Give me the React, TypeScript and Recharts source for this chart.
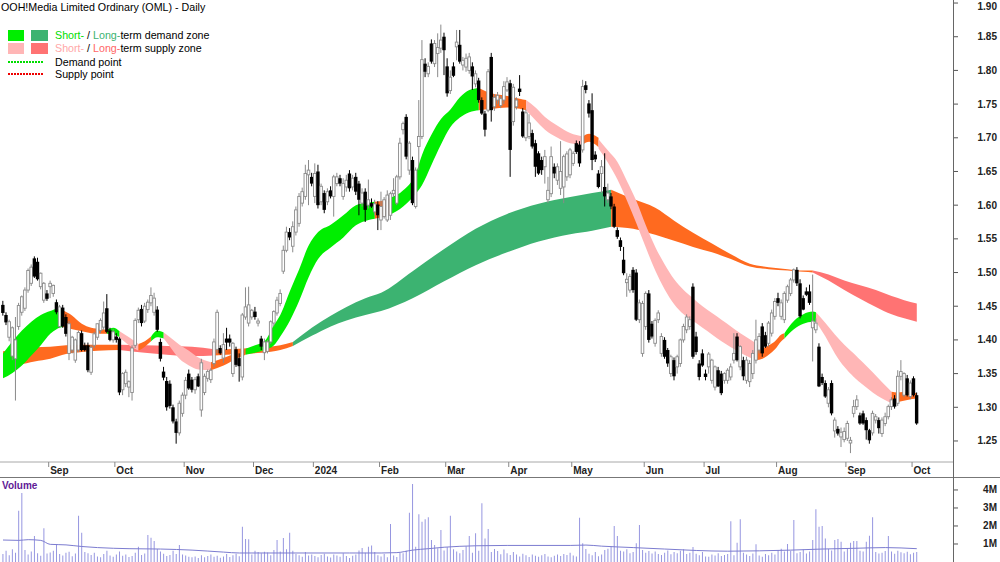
import React from 'react';
import { ComposedChart, Bar, Area, Line, XAxis, YAxis } from 'recharts';

// daily candles [open, high, low, close], 11 Aug 2023 .. 2 Oct 2024
const ohlc: number[][] = [
  [1.452, 1.458, 1.436, 1.440], [1.437, 1.441, 1.422, 1.426], [1.404, 1.430, 1.398, 1.427], [1.376, 1.420, 1.370, 1.418], [1.372, 1.434, 1.310, 1.400],
  [1.420, 1.455, 1.415, 1.451], [1.441, 1.466, 1.436, 1.464], [1.447, 1.478, 1.443, 1.474], [1.474, 1.506, 1.470, 1.503], [1.484, 1.512, 1.480, 1.508],
  [1.521, 1.524, 1.492, 1.494], [1.516, 1.522, 1.488, 1.490], [1.479, 1.500, 1.475, 1.499], [1.459, 1.486, 1.455, 1.484], [1.469, 1.474, 1.458, 1.461],
  [1.479, 1.488, 1.462, 1.484], [1.469, 1.482, 1.464, 1.481], [1.456, 1.460, 1.438, 1.441], [1.420, 1.452, 1.418, 1.449], [1.448, 1.452, 1.418, 1.420],
  [1.434, 1.438, 1.405, 1.409], [1.380, 1.428, 1.370, 1.424], [1.385, 1.406, 1.380, 1.404], [1.370, 1.402, 1.366, 1.400], [1.385, 1.414, 1.382, 1.411],
  [1.410, 1.414, 1.383, 1.385], [1.392, 1.396, 1.383, 1.385], [1.392, 1.396, 1.352, 1.355], [1.352, 1.392, 1.348, 1.389], [1.392, 1.412, 1.388, 1.409],
  [1.404, 1.424, 1.400, 1.424], [1.414, 1.432, 1.410, 1.429], [1.419, 1.457, 1.415, 1.440], [1.447, 1.468, 1.410, 1.412], [1.414, 1.418, 1.398, 1.400],
  [1.400, 1.416, 1.396, 1.412], [1.405, 1.410, 1.396, 1.400], [1.402, 1.404, 1.318, 1.322], [1.326, 1.352, 1.318, 1.350], [1.335, 1.356, 1.330, 1.352],
  [1.330, 1.340, 1.315, 1.338], [1.322, 1.392, 1.310, 1.388], [1.392, 1.432, 1.388, 1.429], [1.430, 1.448, 1.425, 1.444], [1.446, 1.452, 1.420, 1.425],
  [1.428, 1.455, 1.425, 1.450], [1.445, 1.460, 1.440, 1.456], [1.455, 1.478, 1.450, 1.466], [1.441, 1.470, 1.436, 1.462], [1.445, 1.450, 1.412, 1.415],
  [1.397, 1.402, 1.368, 1.372], [1.353, 1.360, 1.340, 1.344], [1.339, 1.345, 1.295, 1.300], [1.335, 1.340, 1.298, 1.302], [1.300, 1.304, 1.276, 1.279],
  [1.279, 1.283, 1.246, 1.262], [1.262, 1.310, 1.258, 1.306], [1.291, 1.322, 1.286, 1.318], [1.318, 1.345, 1.312, 1.340], [1.350, 1.356, 1.326, 1.328],
  [1.341, 1.345, 1.322, 1.326], [1.326, 1.345, 1.320, 1.341], [1.346, 1.350, 1.330, 1.331], [1.296, 1.372, 1.286, 1.366], [1.322, 1.350, 1.318, 1.346],
  [1.343, 1.356, 1.338, 1.353], [1.341, 1.358, 1.336, 1.355], [1.365, 1.402, 1.360, 1.397], [1.386, 1.445, 1.380, 1.441], [1.388, 1.392, 1.378, 1.380],
  [1.373, 1.410, 1.366, 1.393], [1.402, 1.418, 1.385, 1.396], [1.402, 1.408, 1.390, 1.396], [1.350, 1.397, 1.345, 1.395], [1.386, 1.390, 1.360, 1.363],
  [1.373, 1.380, 1.338, 1.361], [1.345, 1.440, 1.340, 1.437], [1.434, 1.478, 1.430, 1.449], [1.425, 1.479, 1.420, 1.452], [1.434, 1.446, 1.430, 1.444],
  [1.442, 1.449, 1.430, 1.434], [1.425, 1.432, 1.420, 1.428], [1.402, 1.406, 1.385, 1.390], [1.381, 1.402, 1.370, 1.397], [1.383, 1.400, 1.380, 1.397],
  [1.397, 1.429, 1.394, 1.427], [1.425, 1.444, 1.420, 1.442], [1.440, 1.464, 1.436, 1.459], [1.454, 1.475, 1.450, 1.469], [1.502, 1.540, 1.498, 1.533],
  [1.533, 1.568, 1.530, 1.560], [1.560, 1.566, 1.548, 1.552], [1.539, 1.576, 1.530, 1.568], [1.560, 1.598, 1.555, 1.593], [1.573, 1.618, 1.568, 1.613],
  [1.603, 1.626, 1.598, 1.620], [1.613, 1.660, 1.608, 1.647], [1.645, 1.667, 1.600, 1.652], [1.642, 1.648, 1.628, 1.632], [1.613, 1.662, 1.603, 1.647],
  [1.650, 1.660, 1.595, 1.600], [1.605, 1.632, 1.600, 1.628], [1.618, 1.622, 1.588, 1.593], [1.605, 1.625, 1.600, 1.620], [1.622, 1.628, 1.610, 1.613],
  [1.613, 1.645, 1.583, 1.642], [1.632, 1.648, 1.628, 1.642], [1.640, 1.645, 1.628, 1.632], [1.613, 1.640, 1.608, 1.632], [1.627, 1.645, 1.620, 1.637],
  [1.647, 1.652, 1.620, 1.625], [1.627, 1.645, 1.622, 1.640], [1.642, 1.648, 1.615, 1.620], [1.632, 1.636, 1.585, 1.608], [1.603, 1.625, 1.598, 1.618],
  [1.620, 1.625, 1.575, 1.593], [1.600, 1.638, 1.595, 1.608], [1.603, 1.610, 1.596, 1.598], [1.590, 1.608, 1.585, 1.602], [1.601, 1.606, 1.563, 1.585],
  [1.578, 1.620, 1.563, 1.598], [1.583, 1.612, 1.580, 1.608], [1.578, 1.622, 1.575, 1.615], [1.585, 1.620, 1.578, 1.617], [1.617, 1.640, 1.612, 1.622],
  [1.603, 1.645, 1.600, 1.642], [1.642, 1.700, 1.638, 1.692], [1.712, 1.724, 1.705, 1.721], [1.731, 1.735, 1.668, 1.672], [1.652, 1.695, 1.645, 1.692],
  [1.667, 1.672, 1.600, 1.603], [1.598, 1.656, 1.595, 1.652], [1.687, 1.756, 1.652, 1.702], [1.702, 1.845, 1.698, 1.816], [1.810, 1.818, 1.790, 1.798],
  [1.795, 1.812, 1.790, 1.806], [1.840, 1.846, 1.810, 1.813], [1.810, 1.845, 1.805, 1.840], [1.825, 1.855, 1.790, 1.834], [1.833, 1.868, 1.826, 1.845],
  [1.850, 1.856, 1.793, 1.830], [1.806, 1.818, 1.761, 1.766], [1.770, 1.800, 1.765, 1.790], [1.806, 1.812, 1.790, 1.792], [1.835, 1.860, 1.815, 1.842],
  [1.838, 1.860, 1.810, 1.813], [1.808, 1.820, 1.800, 1.815], [1.805, 1.825, 1.798, 1.818], [1.800, 1.826, 1.795, 1.820], [1.806, 1.812, 1.771, 1.791],
  [1.780, 1.800, 1.775, 1.795], [1.785, 1.789, 1.752, 1.756], [1.756, 1.760, 1.734, 1.736], [1.736, 1.740, 1.702, 1.712], [1.741, 1.802, 1.738, 1.798],
  [1.820, 1.826, 1.724, 1.741], [1.746, 1.765, 1.740, 1.760], [1.756, 1.768, 1.750, 1.763], [1.748, 1.762, 1.744, 1.758], [1.756, 1.784, 1.750, 1.776],
  [1.771, 1.790, 1.768, 1.783], [1.781, 1.786, 1.642, 1.682], [1.724, 1.780, 1.718, 1.775], [1.746, 1.760, 1.742, 1.756], [1.773, 1.793, 1.762, 1.768],
  [1.739, 1.744, 1.700, 1.702], [1.700, 1.742, 1.695, 1.737], [1.702, 1.735, 1.698, 1.722], [1.707, 1.712, 1.684, 1.687], [1.692, 1.697, 1.642, 1.657],
  [1.677, 1.680, 1.645, 1.647], [1.667, 1.672, 1.645, 1.652], [1.657, 1.682, 1.632, 1.672], [1.608, 1.642, 1.603, 1.622], [1.617, 1.687, 1.612, 1.672],
  [1.657, 1.662, 1.640, 1.647], [1.637, 1.662, 1.630, 1.657], [1.625, 1.695, 1.615, 1.650], [1.627, 1.675, 1.603, 1.672], [1.642, 1.680, 1.636, 1.676],
  [1.645, 1.685, 1.640, 1.682], [1.662, 1.680, 1.658, 1.677], [1.692, 1.696, 1.676, 1.679], [1.690, 1.695, 1.657, 1.662], [1.682, 1.786, 1.678, 1.776],
  [1.778, 1.784, 1.766, 1.771], [1.751, 1.756, 1.730, 1.736], [1.741, 1.766, 1.652, 1.667], [1.675, 1.680, 1.664, 1.668], [1.647, 1.652, 1.625, 1.627],
  [1.647, 1.667, 1.618, 1.657], [1.627, 1.677, 1.598, 1.613], [1.608, 1.632, 1.603, 1.618], [1.613, 1.618, 1.594, 1.598], [1.598, 1.602, 1.566, 1.568],
  [1.563, 1.567, 1.550, 1.553], [1.548, 1.552, 1.532, 1.538], [1.519, 1.538, 1.496, 1.499], [1.485, 1.499, 1.464, 1.490], [1.474, 1.498, 1.470, 1.494],
  [1.504, 1.508, 1.470, 1.474], [1.500, 1.505, 1.428, 1.430], [1.430, 1.460, 1.425, 1.455], [1.380, 1.458, 1.375, 1.454], [1.420, 1.472, 1.415, 1.469],
  [1.469, 1.474, 1.396, 1.400], [1.424, 1.428, 1.402, 1.405], [1.395, 1.432, 1.390, 1.429], [1.430, 1.444, 1.425, 1.440], [1.380, 1.410, 1.375, 1.405],
  [1.400, 1.404, 1.372, 1.375], [1.385, 1.388, 1.360, 1.365], [1.350, 1.378, 1.345, 1.375], [1.370, 1.374, 1.340, 1.346], [1.360, 1.378, 1.350, 1.375],
  [1.365, 1.402, 1.360, 1.400], [1.400, 1.424, 1.396, 1.420], [1.415, 1.438, 1.410, 1.434], [1.420, 1.435, 1.415, 1.430], [1.479, 1.484, 1.372, 1.375],
  [1.405, 1.412, 1.378, 1.382], [1.365, 1.370, 1.340, 1.345], [1.380, 1.386, 1.360, 1.362], [1.350, 1.356, 1.340, 1.345], [1.360, 1.382, 1.350, 1.379],
  [1.340, 1.372, 1.335, 1.370], [1.330, 1.362, 1.325, 1.360], [1.355, 1.360, 1.330, 1.331], [1.350, 1.354, 1.318, 1.321], [1.340, 1.352, 1.335, 1.350],
  [1.340, 1.358, 1.335, 1.355], [1.345, 1.365, 1.340, 1.360], [1.370, 1.410, 1.365, 1.380], [1.405, 1.410, 1.368, 1.370], [1.360, 1.392, 1.355, 1.390],
  [1.370, 1.375, 1.340, 1.346], [1.340, 1.375, 1.335, 1.370], [1.338, 1.370, 1.330, 1.365], [1.350, 1.385, 1.342, 1.380], [1.370, 1.430, 1.365, 1.400],
  [1.385, 1.410, 1.380, 1.405], [1.420, 1.425, 1.375, 1.380], [1.407, 1.412, 1.388, 1.390], [1.395, 1.428, 1.390, 1.425], [1.410, 1.445, 1.405, 1.440],
  [1.435, 1.462, 1.430, 1.457], [1.462, 1.470, 1.450, 1.455], [1.435, 1.460, 1.430, 1.455], [1.430, 1.472, 1.425, 1.469], [1.459, 1.482, 1.455, 1.479],
  [1.469, 1.492, 1.465, 1.489], [1.489, 1.506, 1.485, 1.504], [1.504, 1.508, 1.480, 1.484], [1.484, 1.490, 1.432, 1.435], [1.462, 1.466, 1.444, 1.445],
  [1.472, 1.478, 1.465, 1.467], [1.472, 1.482, 1.452, 1.455], [1.418, 1.497, 1.368, 1.428], [1.415, 1.432, 1.410, 1.425], [1.390, 1.395, 1.330, 1.331],
  [1.345, 1.350, 1.333, 1.336], [1.336, 1.340, 1.314, 1.316], [1.306, 1.330, 1.300, 1.326], [1.336, 1.340, 1.288, 1.291], [1.265, 1.285, 1.255, 1.281],
  [1.268, 1.272, 1.258, 1.261], [1.256, 1.270, 1.241, 1.263], [1.252, 1.270, 1.248, 1.264], [1.254, 1.280, 1.250, 1.276], [1.247, 1.256, 1.232, 1.251],
  [1.291, 1.311, 1.285, 1.301], [1.301, 1.318, 1.296, 1.311], [1.288, 1.292, 1.274, 1.276], [1.291, 1.295, 1.274, 1.276], [1.281, 1.285, 1.252, 1.266],
  [1.266, 1.268, 1.246, 1.251], [1.262, 1.295, 1.258, 1.291], [1.281, 1.290, 1.276, 1.286], [1.281, 1.285, 1.261, 1.269], [1.261, 1.285, 1.256, 1.281],
  [1.276, 1.292, 1.272, 1.286], [1.286, 1.304, 1.282, 1.301], [1.301, 1.315, 1.296, 1.311], [1.313, 1.318, 1.298, 1.301], [1.306, 1.355, 1.302, 1.346],
  [1.346, 1.370, 1.340, 1.353], [1.318, 1.352, 1.315, 1.350], [1.343, 1.348, 1.316, 1.318], [1.316, 1.340, 1.312, 1.336], [1.343, 1.346, 1.316, 1.318],
  [1.318, 1.322, 1.274, 1.276],
];

// daily volume, millions of shares
const volume: number[] = [
  0.45, 0.62, 0.38, 0.71, 0.52, 2.85, 3.83, 0.66, 0.41, 0.58,
  1.44, 0.49, 0.35, 1.87, 0.47, 0.53, 0.62, 0.98, 0.44, 0.36,
  0.51, 0.57, 0.32, 0.47, 2.57, 1.63, 0.55, 0.48, 0.39, 0.52,
  0.31, 0.27, 0.44, 0.62, 0.36, 0.29, 0.41, 0.58, 0.35, 0.42,
  0.28, 0.33, 0.52, 0.85, 0.39, 0.47, 1.50, 1.35, 1.17, 0.72,
  0.58, 0.46, 0.33, 0.39, 0.62, 0.45, 0.94, 0.41, 0.36, 0.29,
  0.27, 0.31, 0.22, 0.38, 0.26, 0.33, 0.41, 0.29, 0.35, 0.24,
  0.31, 0.44, 0.28, 0.37, 0.46, 0.32, 1.96, 1.28, 1.26, 0.41,
  0.62, 0.55, 0.48, 0.57, 0.53, 0.38, 0.66, 1.22, 0.58, 1.33,
  0.71, 1.63, 0.62, 0.45, 0.38, 0.29, 0.55, 0.36, 0.42, 0.33,
  0.27, 0.39, 0.46, 0.31, 0.25, 0.41, 0.36, 0.29, 0.48, 0.33,
  0.22, 0.35, 0.41, 0.64, 0.78, 0.52, 0.84, 0.92, 0.56, 0.38,
  0.31, 0.45, 0.27, 2.11, 0.36, 0.28, 0.52, 0.48, 0.62, 2.74,
  4.33, 0.85, 2.65, 2.24, 2.37, 2.48, 1.22, 0.95, 0.76, 1.78,
  0.64, 0.82, 2.57, 0.71, 0.58, 0.49, 0.66, 0.87, 1.44, 0.52,
  1.59, 0.63, 3.26, 1.31, 1.83, 0.55, 0.72, 0.61, 0.43, 0.70,
  0.48, 0.39, 0.55, 0.42, 0.31, 0.46, 0.37, 0.28, 0.41, 0.35,
  0.29, 0.38, 0.44, 0.31, 0.26, 0.35, 0.42, 0.33, 0.45, 0.39,
  0.52, 0.36, 0.31, 2.46, 1.04, 0.72, 0.46, 0.38, 0.55, 0.32,
  0.41, 0.67, 0.74, 0.86, 2.00, 1.44, 0.62, 0.58, 0.71, 0.49,
  0.55, 1.04, 2.06, 0.66, 0.52, 0.61, 0.47, 0.58, 0.45, 0.39,
  0.52, 0.64, 0.43, 0.56, 0.48, 0.62, 0.71, 0.44, 0.52, 0.83,
  0.46, 0.38, 0.55, 0.31, 0.29, 0.42, 0.36, 0.48, 0.33, 0.39,
  0.45, 2.26, 0.37, 1.07, 2.37, 0.52, 0.41, 0.34, 0.47, 0.98,
  0.36, 0.29, 0.44, 0.38, 0.51, 0.42, 0.66, 0.73, 0.58, 1.00,
  0.62, 2.33, 0.48, 0.55, 0.69, 0.47, 0.58, 1.22, 2.93, 1.96,
  2.00, 1.30, 0.72, 0.64, 1.22, 1.28, 1.13, 0.58, 0.77, 1.07,
  1.17, 1.17, 0.62, 0.58, 1.13, 1.46, 2.48, 0.55, 0.47, 0.52,
  0.61, 1.44, 0.58, 0.46, 0.62, 0.54, 0.49, 0.57, 0.43, 0.51,
  0.55,
];

// volume moving average read at [day index, millions]
const volumeAvg: number[][] = [
  [0, 1.22], [5, 1.2], [8, 1.24], [12, 1.2], [15, 0.98], [20, 0.95], [25, 0.86], [30, 0.8], [40, 0.74],
  [50, 0.72], [60, 0.66], [70, 0.55], [75, 0.5], [90, 0.5], [110, 0.5], [120, 0.5], [125, 0.52], [130, 0.66],
  [135, 0.74], [140, 0.82], [150, 0.9], [160, 0.92], [180, 0.92], [185, 0.94], [190, 0.88], [200, 0.8],
  [210, 0.72], [220, 0.64], [230, 0.6], [240, 0.62], [250, 0.66], [260, 0.72], [270, 0.76], [280, 0.8],
  [285, 0.78], [290, 0.74],
];

const monthTicks = [14.5, 35.5, 57.5, 79.5, 98.5, 119.5, 140.5, 160.5, 180.5, 203.5, 222.5, 245.5, 267.5, 288.5];
const monthLabels = ['Sep', 'Oct', 'Nov', 'Dec', '2024', 'Feb', 'Mar', 'Apr', 'May', 'Jun', 'Jul', 'Aug', 'Sep', 'Oct'];
const priceTicks = [1.25, 1.3, 1.35, 1.4, 1.45, 1.5, 1.55, 1.6, 1.65, 1.7, 1.75, 1.8, 1.85, 1.9];
const volumeTicks = [1, 2, 3, 4];

const zoneColors: Record<string, string> = {
  stDemand: '#00ee00',
  ltDemand: '#3cb371',
  stSupply: '#ffb6b6',
  ltSupply: '#ff7373',
  neutral: '#ff6a1f',
};

// short-term zone band, [day index, lower, upper]
const shortBand = [
  { zone: 'stDemand', pts: [[0, 1.343, 1.38], [3, 1.351, 1.398], [6, 1.362, 1.414], [9, 1.377, 1.427], [12, 1.392, 1.437], [15, 1.409, 1.443], [17, 1.416, 1.446], [19, 1.419, 1.444]] },
  { zone: 'neutral', pts: [[19, 1.419, 1.444], [22, 1.416, 1.436], [25, 1.413, 1.424], [28, 1.41, 1.418], [31, 1.409, 1.416], [33, 1.409, 1.415]] },
  { zone: 'stDemand', pts: [[33, 1.409, 1.415], [35, 1.408, 1.418], [37, 1.404, 1.413]] },
  { zone: 'stSupply', pts: [[37, 1.404, 1.413], [40, 1.392, 1.404], [43, 1.384, 1.394]] },
  { zone: 'neutral', pts: [[43, 1.384, 1.394], [45, 1.39, 1.398], [47, 1.398, 1.405]] },
  { zone: 'stDemand', pts: [[47, 1.398, 1.405], [49, 1.404, 1.414], [51, 1.402, 1.411]] },
  { zone: 'stSupply', pts: [[51, 1.402, 1.411], [53, 1.39, 1.404], [56, 1.372, 1.393], [59, 1.362, 1.384], [62, 1.356, 1.374], [66, 1.355, 1.367]] },
  { zone: 'neutral', pts: [[66, 1.355, 1.367], [70, 1.362, 1.373], [74, 1.372, 1.381], [77, 1.378, 1.387]] },
  { zone: 'stDemand', pts: [[77, 1.378, 1.387], [80, 1.381, 1.392], [83, 1.385, 1.398], [86, 1.392, 1.422], [88, 1.405, 1.437], [91, 1.428, 1.472], [94, 1.458, 1.505], [97, 1.493, 1.54], [100, 1.52, 1.56], [104, 1.537, 1.571], [108, 1.552, 1.585], [112, 1.57, 1.6], [116, 1.578, 1.604], [118, 1.58, 1.605]] },
  { zone: 'neutral', pts: [[118, 1.58, 1.605], [120, 1.582, 1.606], [123, 1.586, 1.611]] },
  { zone: 'stDemand', pts: [[123, 1.586, 1.611], [127, 1.598, 1.622], [131, 1.617, 1.647], [133, 1.63, 1.675], [136, 1.66, 1.705], [139, 1.69, 1.728], [142, 1.716, 1.742], [145, 1.73, 1.76], [148, 1.738, 1.771], [151, 1.741, 1.774]] },
  { zone: 'neutral', pts: [[151, 1.741, 1.774], [155, 1.743, 1.766], [160, 1.745, 1.762], [164, 1.743, 1.758], [166, 1.741, 1.756]] },
  { zone: 'stSupply', pts: [[166, 1.741, 1.756], [169, 1.726, 1.745], [172, 1.712, 1.731], [176, 1.7, 1.718], [180, 1.692, 1.707], [184, 1.69, 1.702]] },
  { zone: 'neutral', pts: [[184, 1.69, 1.702], [186, 1.694, 1.706], [188, 1.69, 1.703], [189, 1.686, 1.7]] },
  { zone: 'stSupply', pts: [[189, 1.684, 1.698], [192, 1.663, 1.681], [195, 1.638, 1.664], [198, 1.607, 1.636], [201, 1.573, 1.606], [204, 1.537, 1.57], [207, 1.503, 1.538], [210, 1.475, 1.512], [213, 1.453, 1.49], [216, 1.438, 1.474], [219, 1.428, 1.462], [222, 1.418, 1.45], [225, 1.408, 1.44], [228, 1.398, 1.43], [231, 1.389, 1.42], [234, 1.381, 1.41], [237, 1.374, 1.401], [239, 1.37, 1.395]] },
  { zone: 'neutral', pts: [[239, 1.37, 1.395], [241, 1.372, 1.388], [243, 1.378, 1.392], [245, 1.386, 1.398], [247, 1.398, 1.408], [248, 1.402, 1.41]] },
  { zone: 'stDemand', pts: [[248, 1.402, 1.41], [251, 1.416, 1.428], [254, 1.424, 1.438], [257, 1.427, 1.442], [258, 1.427, 1.441]] },
  { zone: 'stSupply', pts: [[258, 1.427, 1.441], [261, 1.405, 1.425], [264, 1.38, 1.408], [267, 1.36, 1.393], [270, 1.345, 1.38], [273, 1.333, 1.366], [276, 1.322, 1.352], [279, 1.313, 1.337], [282, 1.306, 1.323]] },
  { zone: 'neutral', pts: [[282, 1.306, 1.323], [284, 1.308, 1.322], [287, 1.311, 1.323], [290, 1.313, 1.321]] },
];

// long-term zone band, [day index, lower, upper]
const longBand = [
  { zone: 'neutral', pts: [[0, 1.366, 1.383], [5, 1.364, 1.386], [10, 1.368, 1.389], [15, 1.372, 1.39], [20, 1.379, 1.392], [25, 1.382, 1.393], [30, 1.384, 1.393], [37, 1.385, 1.393]] },
  { zone: 'ltSupply', pts: [[37, 1.385, 1.393], [45, 1.381, 1.392], [52, 1.378, 1.391], [60, 1.376, 1.39], [67, 1.377, 1.386]] },
  { zone: 'neutral', pts: [[67, 1.377, 1.386], [75, 1.379, 1.387], [82, 1.381, 1.389], [88, 1.385, 1.392], [92, 1.391, 1.397]] },
  { zone: 'ltDemand', pts: [[92, 1.391, 1.397], [98, 1.406, 1.418], [104, 1.42, 1.436], [109, 1.429, 1.449], [115, 1.437, 1.462], [120, 1.443, 1.47], [130, 1.462, 1.502], [140, 1.487, 1.535], [150, 1.511, 1.565], [160, 1.53, 1.587], [170, 1.546, 1.602], [180, 1.557, 1.612], [187, 1.562, 1.618], [193, 1.568, 1.623]] },
  { zone: 'neutral', pts: [[193, 1.568, 1.623], [200, 1.565, 1.609], [207, 1.556, 1.596], [213, 1.547, 1.577], [219, 1.538, 1.559], [225, 1.53, 1.543], [231, 1.52, 1.527], [237, 1.509, 1.513], [243, 1.505, 1.508], [249, 1.503, 1.505], [254, 1.501, 1.503], [257, 1.5, 1.503]] },
  { zone: 'ltSupply', pts: [[257, 1.5, 1.503], [262, 1.488, 1.497], [267, 1.474, 1.488], [272, 1.461, 1.481], [277, 1.449, 1.474], [282, 1.438, 1.465], [286, 1.432, 1.459], [290, 1.427, 1.454]] },
];

const FONT = '"Liberation Sans", Arial, Helvetica, sans-serif';
const X_DOMAIN: [number, number] = [-0.952, 301.49];

const priceRows: any[] = ohlc.map(([o, h, l, c], i) => ({ i, o, h, l, c, range: [l, h] }));
longBand.forEach((seg, k) => seg.pts.forEach(([idx, lo, hi]) => { priceRows[idx]['l' + k] = [lo, hi]; }));
shortBand.forEach((seg, k) => seg.pts.forEach(([idx, lo, hi]) => { priceRows[idx]['s' + k] = [lo, hi]; }));

const volumeRows: any[] = volume.map((v, i) => ({ i, v }));
volumeAvg.forEach(([idx, m]) => { volumeRows[idx].ma = m; });

function Candle(props: any) {
  const { x, y, width, height, payload } = props;
  if (!payload || height == null || isNaN(y)) return null;
  const { o, h, l, c } = payload;
  const cx = x + width / 2;
  const k = h === l ? 0 : height / (h - l);
  const yO = y + (h - o) * k;
  const yC = y + (h - c) * k;
  const up = c >= o;
  const top = Math.min(yO, yC);
  const bh = Math.max(Math.abs(yC - yO), 1);
  const col = up ? '#8a8a8a' : '#000';
  return (
    <g>
      <line x1={cx} x2={cx} y1={y} y2={y + height} stroke={col} strokeWidth={1} />
      {up ? (
        <rect x={cx - 1.3} y={top} width={2.6} height={bh} fill="#fff" stroke={col} strokeWidth={0.9} />
      ) : (
        <rect x={cx - 1.7} y={top} width={3.4} height={bh} fill="#000" />
      )}
    </g>
  );
}

function MonthTick({ x, payload }: any) {
  const idx = monthTicks.indexOf(payload.value);
  return (
    <text x={x + 1.5} y={474} fontSize={10} fontWeight="bold" fontFamily={FONT} fill="#222" textAnchor="start">
      {monthLabels[idx]}
    </text>
  );
}

function PriceTick({ y, payload }: any) {
  return (
    <text x={997} y={Math.max(y, 6)} dy={3.5} fontSize={10} fontWeight="bold" fontFamily={FONT} fill="#222" textAnchor="end">
      {Number(payload.value).toFixed(2)}
    </text>
  );
}

function VolumeTick({ y, payload }: any) {
  return (
    <text x={997} y={y} dy={3.5} fontSize={10} fontWeight="bold" fontFamily={FONT} fill="#222" textAnchor="end">
      {payload.value + 'M'}
    </text>
  );
}

function Legend() {
  const txt = { fontSize: 10.7, fontFamily: FONT, style: { whiteSpace: 'pre' as const } };
  return (
    <svg width={330} height={90} style={{ position: 'absolute', left: 0, top: 0 }}>
      <text x={1} y={11} {...txt} fill="#000">OOH!Media Limited Ordinary (OML) - Daily</text>
      <rect x={8} y={30} width={16} height={11} fill={zoneColors.stDemand} />
      <rect x={31} y={30} width={17} height={11} fill={zoneColors.ltDemand} />
      <rect x={8} y={43} width={16} height={11} fill={zoneColors.stSupply} />
      <rect x={31} y={43} width={17} height={11} fill={zoneColors.ltSupply} />
      <line x1={8} x2={44} y1={62} y2={62} stroke="#00dd00" strokeWidth={2} strokeDasharray="2 1" />
      <line x1={8} x2={44} y1={74} y2={74} stroke="#ee0000" strokeWidth={2} strokeDasharray="2 1" />
      <text x={55} y={39} {...txt}>
        <tspan fill="#00dd00">Short-</tspan><tspan fill="#000"> / </tspan><tspan fill={zoneColors.ltDemand}>Long-</tspan><tspan fill="#000">term demand zone</tspan>
      </text>
      <text x={55} y={52} {...txt}>
        <tspan fill="#ffa8a8">Short-</tspan><tspan fill="#000"> / </tspan><tspan fill="#ff6666">Long-</tspan><tspan fill="#000">term supply zone</tspan>
      </text>
      <text x={55} y={66} {...txt} fill="#000">Demand point</text>
      <text x={55} y={78} {...txt} fill="#000">Supply point</text>
    </svg>
  );
}

export default function App() {
  return (
    <div style={{ position: 'relative', width: 1000, height: 562, overflow: 'hidden', background: '#fff' }}>
      <style>{'body{margin:0;background:#fff}'}</style>

      <div style={{ position: 'absolute', left: 0, top: 0 }}>
        <ComposedChart width={1000} height={477} data={priceRows} margin={{ top: 0, right: 0, bottom: 0, left: 0 }}>
          <XAxis
            dataKey="i"
            type="number"
            domain={X_DOMAIN}
            allowDataOverflow
            ticks={monthTicks}
            interval={0}
            height={15}
            tickSize={5}
            tick={<MonthTick />}
            axisLine={{ stroke: '#a8a8a8' }}
            tickLine={{ stroke: '#888' }}
          />
          <YAxis
            orientation="right"
            type="number"
            domain={[1.2188, 1.9045]}
            allowDataOverflow
            ticks={priceTicks}
            interval={0}
            width={47}
            tickSize={5}
            tick={<PriceTick />}
            axisLine={false}
            tickLine={{ stroke: '#555' }}
          />
          {longBand.map((seg, k) => (
            <Area
              key={'l' + k}
              dataKey={'l' + k}
              type="monotone"
              connectNulls
              stroke="none"
              fill={zoneColors[seg.zone]}
              fillOpacity={1}
              dot={false}
              activeDot={false}
              isAnimationActive={false}
            />
          ))}
          {shortBand.map((seg, k) => (
            <Area
              key={'s' + k}
              dataKey={'s' + k}
              type="monotone"
              connectNulls
              stroke="none"
              fill={zoneColors[seg.zone]}
              fillOpacity={1}
              dot={false}
              activeDot={false}
              isAnimationActive={false}
            />
          ))}
          <Bar dataKey="range" barSize={4} shape={(p: any) => <Candle {...p} />} isAnimationActive={false} />
        </ComposedChart>
      </div>

      <div style={{ position: 'absolute', left: 0, top: 477 }}>
        <ComposedChart width={1000} height={85} data={volumeRows} margin={{ top: 0, right: 0, bottom: 0, left: 0 }}>
          <XAxis dataKey="i" type="number" domain={X_DOMAIN} allowDataOverflow hide />
          <YAxis
            orientation="right"
            type="number"
            domain={[0, 4.72]}
            allowDataOverflow
            ticks={volumeTicks}
            interval={0}
            width={47}
            tickSize={5}
            tick={<VolumeTick />}
            axisLine={false}
            tickLine={{ stroke: '#555' }}
          />
          <Bar dataKey="v" barSize={1} fill="#9696e0" isAnimationActive={false} />
          <Line dataKey="ma" type="monotone" connectNulls stroke="#7c7cd0" strokeWidth={1} dot={false} activeDot={false} isAnimationActive={false} />
        </ComposedChart>
        <div style={{ position: 'absolute', left: 2, top: 3, fontFamily: FONT, fontSize: 10, fontWeight: 'bold', color: '#5f1a96' }}>Volume</div>
      </div>

      <div style={{ position: 'absolute', left: 0, top: 477, width: 1000, height: 1, background: '#777' }} />
      <div style={{ position: 'absolute', left: 953, top: 0, width: 1, height: 562, background: '#666' }} />

      <Legend />
    </div>
  );
}
